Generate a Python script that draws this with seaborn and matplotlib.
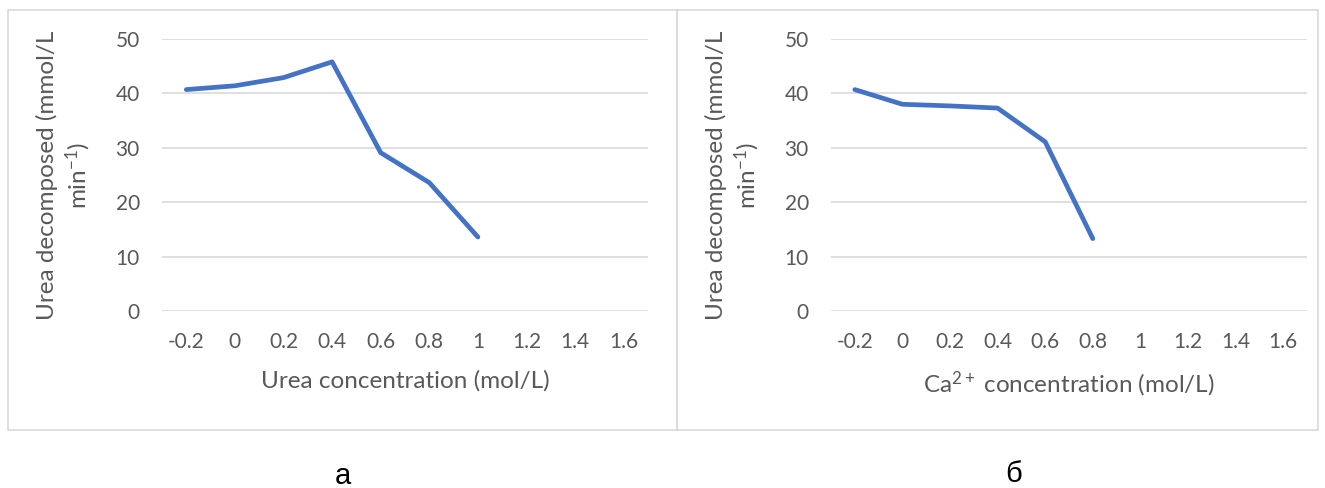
import matplotlib
matplotlib.use("Agg")
import matplotlib.pyplot as plt
from matplotlib.patches import Rectangle
import numpy as np
import pandas as pd
import seaborn as sns

# data
urea_conc = [-0.2, 0, 0.2, 0.4, 0.6, 0.8, 1.0]
urea_rate = [40.7, 41.4, 42.9, 45.8, 29.1, 23.6, 13.6]
ca_conc = [-0.2, 0, 0.2, 0.4, 0.6, 0.8]
ca_rate = [40.7, 38.0, 37.7, 37.3, 31.1, 13.3]
x_ticks = [-0.2, 0, 0.2, 0.4, 0.6, 0.8, 1.0, 1.2, 1.4, 1.6]
x_tick_labels = ['-0.2', '0', '0.2', '0.4', '0.6', '0.8', '1', '1.2', '1.4', '1.6']
y_ticks = [0, 10, 20, 30, 40, 50]

sns.set_theme(style="white")
plt.rcParams['font.family'] = ['Lato', 'DejaVu Sans']
plt.rcParams['mathtext.fontset'] = 'custom'
plt.rcParams['mathtext.rm'] = 'Lato'
plt.rcParams['mathtext.it'] = 'Lato'

W, H = 1325, 488
fig = plt.figure(figsize=(W / 100, H / 100), dpi=100)

text_col = '#595959'
line_col = '#4472C4'
grid_col = '#D9D9D9'


def px_axes(x0, x1, y_top, y_bot):
    return fig.add_axes([x0 / W, 1 - y_bot / H, (x1 - x0) / W, (y_bot - y_top) / H])


# panel borders
for (bx0, bx1) in [(8, 677), (677, 1318)]:
    fig.add_artist(Rectangle((bx0 / W, 1 - 430 / H), (bx1 - bx0) / W, 420 / H,
                             transform=fig.transFigure, fill=False,
                             edgecolor=grid_col, linewidth=1.2))

panels = [
    (px_axes(162, 648, 39, 311), urea_conc, urea_rate, 'Urea concentration (mol/L)'),
    (px_axes(831, 1307, 39, 311), ca_conc, ca_rate, 'Ca$^{2+}$ concentration (mol/L)'),
]

for ax, xs, ys, xlabel in panels:
    df = pd.DataFrame({'x': xs, 'y': ys})
    sns.lineplot(data=df, x='x', y='y', ax=ax, color=line_col, linewidth=3.4,
                 solid_capstyle='round', solid_joinstyle='round')
    ax.set_xlim(-0.3, 1.7)
    ax.set_ylim(0, 50)
    ax.set_yticks(y_ticks)
    ax.set_xticks(x_ticks)
    ax.set_xticklabels(x_tick_labels)
    for yv in y_ticks:
        ax.axhline(yv, color=grid_col, linewidth=1.2, zorder=0)
    for s in ax.spines.values():
        s.set_visible(False)
    ax.tick_params(axis='both', length=0, labelsize=15, labelcolor=text_col)
    ax.tick_params(axis='x', pad=15)
    ax.tick_params(axis='y', pad=16)
    ax.set_xlabel(xlabel, fontsize=17.5, color=text_col, labelpad=13)
    ax.set_ylabel('Urea decomposed (mmol/L\nmin$^{-1}$)', fontsize=17.5,
                  color=text_col, labelpad=16, linespacing=1.25)

fig.text(343 / W, 1 - 476 / H, 'а', ha='center', va='center', fontsize=21,
         family='Liberation Sans', color='black')
fig.text(1014 / W, 1 - 474 / H, 'б', ha='center', va='center', fontsize=21,
         family='Liberation Sans', color='black')

fig.savefig('out.png', dpi=100)
